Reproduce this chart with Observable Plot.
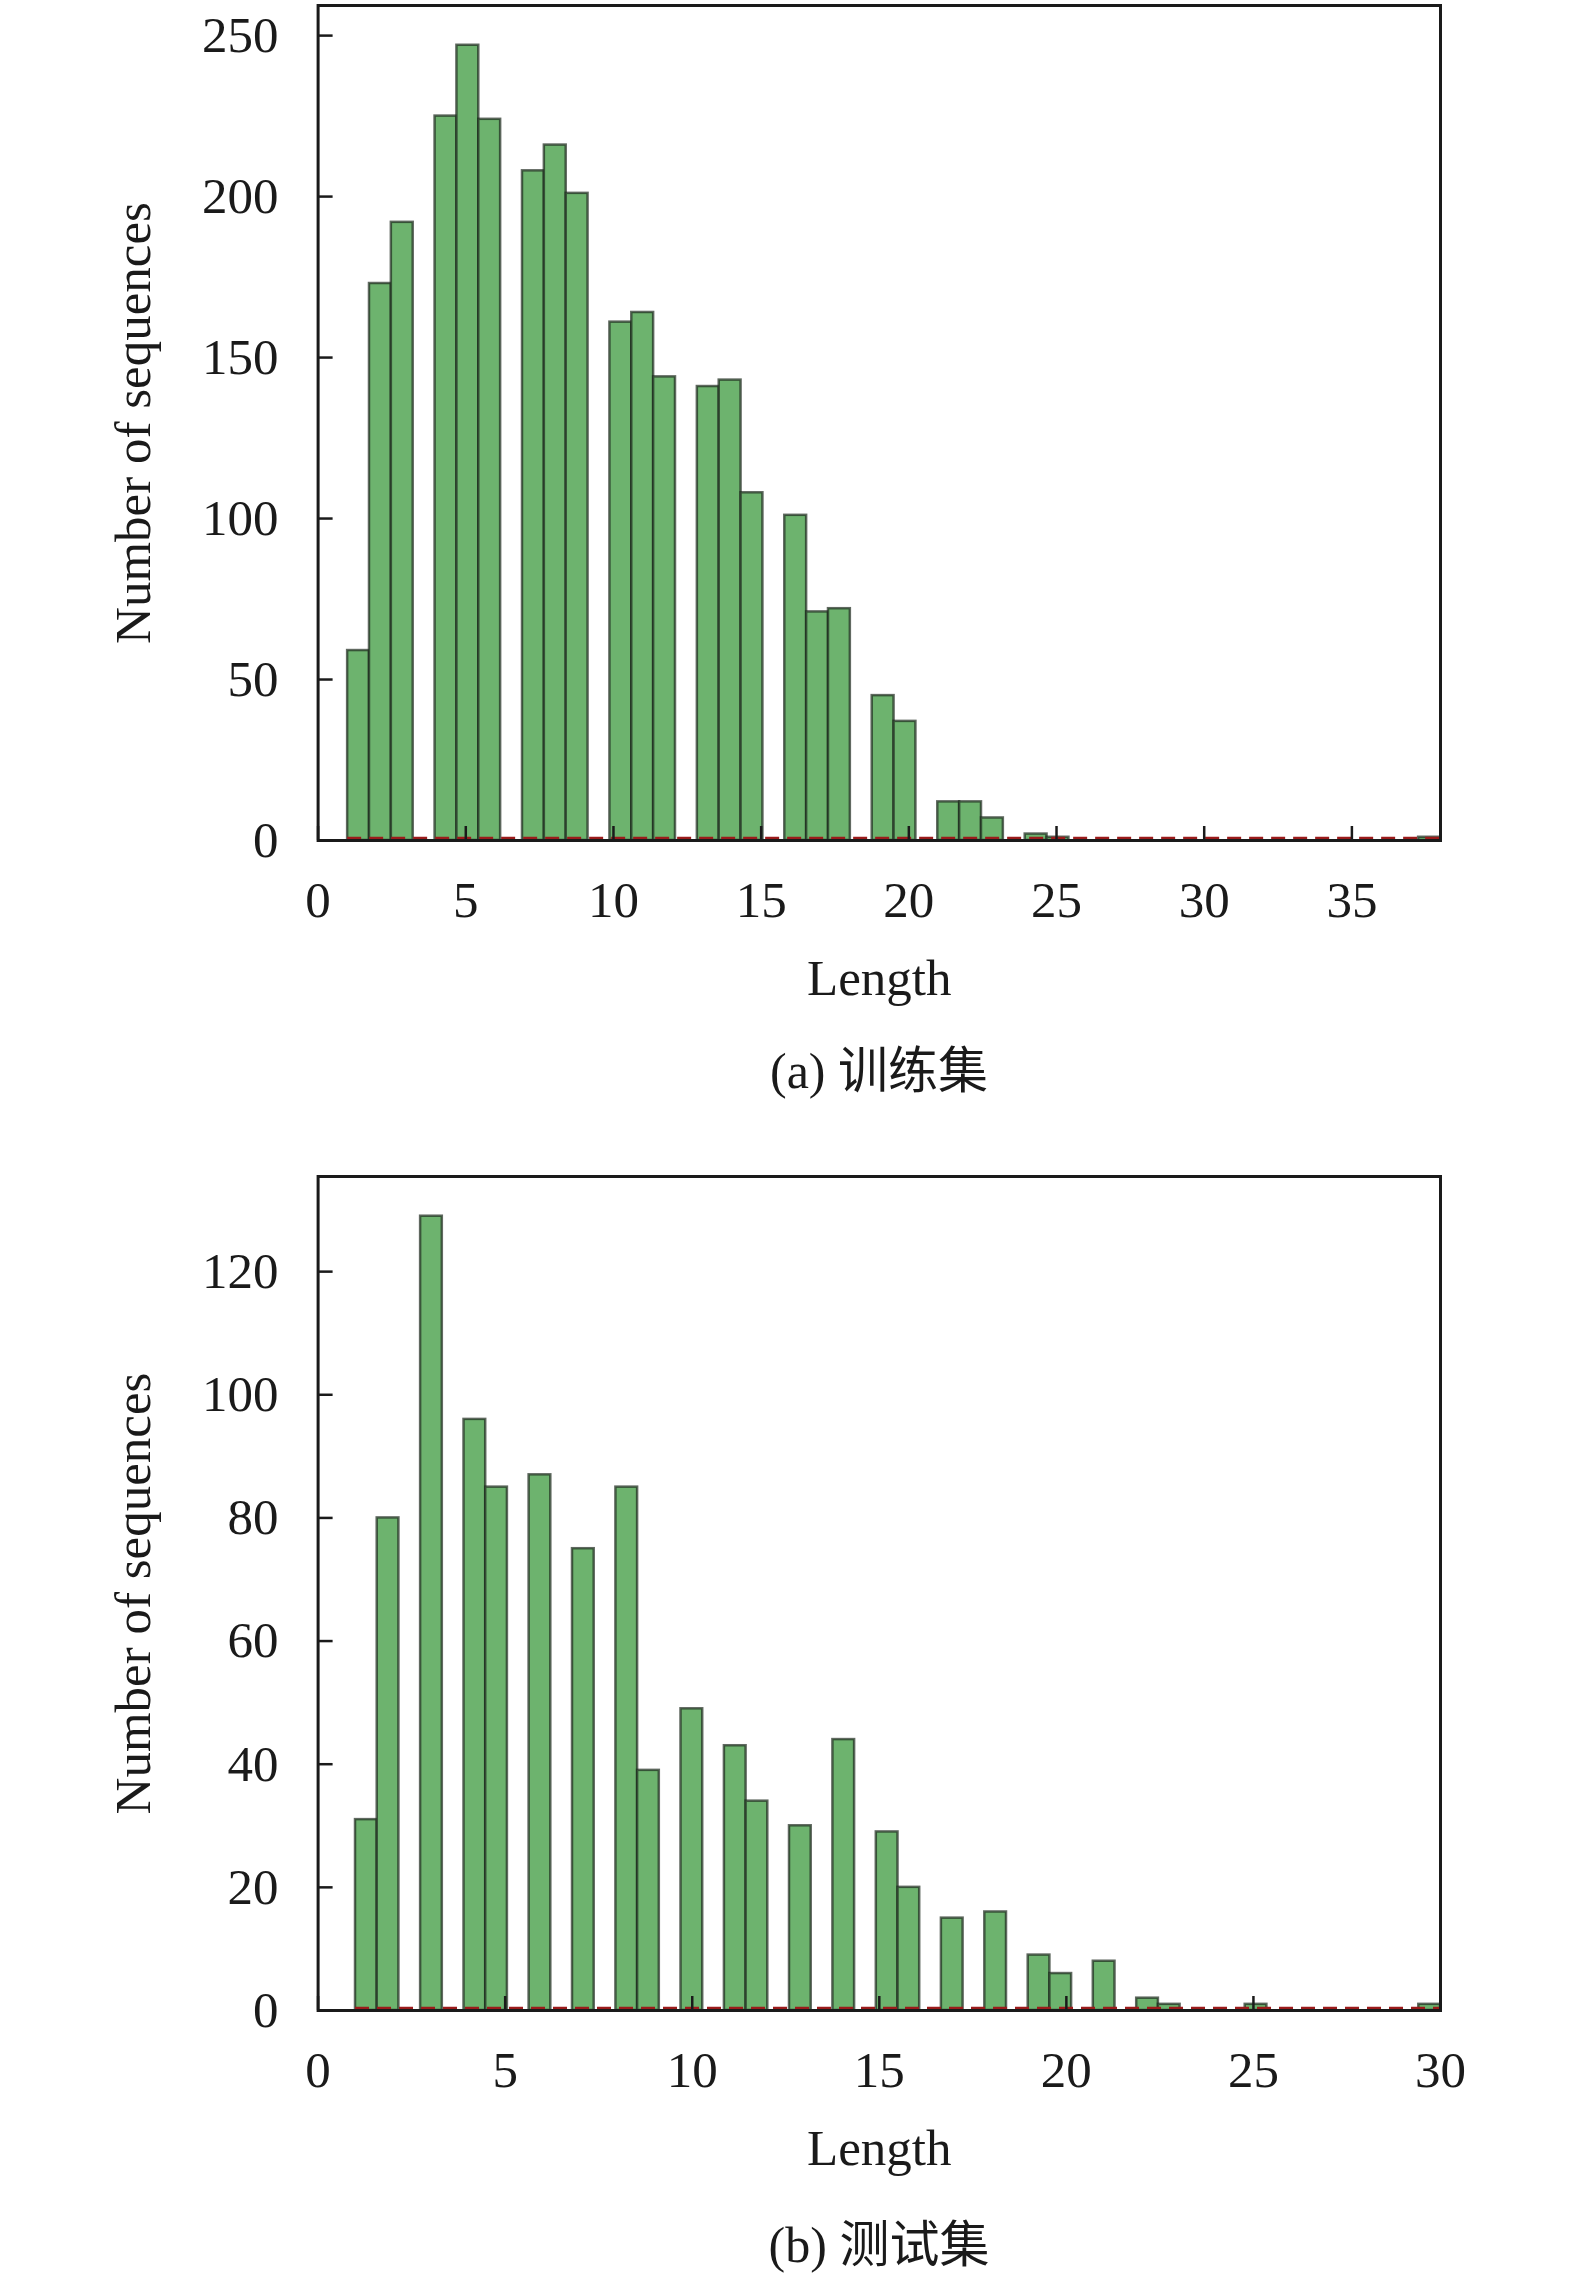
<!DOCTYPE html>
<html>
<head>
<meta charset="utf-8">
<script src="https://cdn.jsdelivr.net/npm/d3@7"></script>
<script src="https://cdn.jsdelivr.net/npm/@observablehq/plot@0.6"></script>
<style>
  html, body { margin: 0; padding: 0; background: #fff; }
  #wrap { position: relative; width: 1575px; height: 2280px; background: #fff; }
  .panel { position: absolute; left: 0; }
  .caption {
    position: absolute; left: 879px; transform: translateX(-50%);
    font-family: "Liberation Serif", "Noto Sans CJK SC", serif;
    font-size: 50px; line-height: 50px; height: 50px; white-space: nowrap; color: #1a1a1a;
  }
</style>
</head>
<body>
<div id="wrap">
  <div class="panel" id="pa" style="top:0px"></div>
  <div class="caption" style="top:1046px">(a) 训练集</div>
  <div class="panel" id="pb" style="top:1140px"></div>
  <div class="caption" style="top:2220px">(b) 测试集</div>
</div>
<script>
// ---- data: panel (a) 训练集 ----
const trainLengths = [1, 2, 3, 4, 5, 6, 7, 8, 9, 10, 11, 12, 13, 14, 15, 16, 17, 18, 19, 20, 21, 22, 23, 24, 25, 38];
const trainCounts  = [59, 173, 192, 225, 247, 224, 208, 216, 201, 161, 164, 144, 141, 143, 108, 101, 71, 72, 45, 37, 12, 12, 7, 2, 1, 1];
const trainRange   = [1, 38];
const trainXTicks  = [0, 5, 10, 15, 20, 25, 30, 35];
const trainYTicks  = [0, 50, 100, 150, 200, 250];

// ---- data: panel (b) 测试集 ----
const testLengths = [1, 2, 3, 4, 5, 6, 7, 8, 9, 10, 11, 12, 13, 14, 15, 16, 17, 18, 19, 20, 21, 22, 23, 25, 30];
const testCounts  = [31, 80, 129, 96, 85, 87, 75, 85, 39, 49, 43, 34, 30, 44, 29, 20, 15, 16, 9, 6, 8, 2, 1, 1, 1];
const testRange   = [1, 30];
const testXTicks  = [0, 5, 10, 15, 20, 25, 30];
const testYTicks  = [0, 20, 40, 60, 80, 100, 120];

const nBins = 50;
const xLabel = "Length";
const yLabel = "Number of sequences";

function binned(lengths, counts, [lo, hi]) {
  const w = (hi - lo) / nBins;
  return lengths.map((L, i) => {
    const b = Math.min(nBins - 1, Math.floor((L - lo) / w + 1e-9));
    return {x1: lo + b * w, x2: lo + (b + 1) * w, y: counts[i]};
  });
}

function panel(lengths, counts, range, xTicks, yTicks, marginTop, height) {
  const bars = binned(lengths, counts, range);
  const yMax = d3.max(counts) * 1.05;
  const ink = "#1a1a1a";
  return Plot.plot({
    width: 1575,
    height,
    marginLeft: 317.6,
    marginRight: 135,
    marginTop,
    marginBottom: 170,
    style: {
      fontFamily: '"Liberation Serif", "Times New Roman", serif',
      fontSize: "51px",
      color: ink,
      background: "white",
      overflow: "visible"
    },
    x: {domain: [0, range[1]]},
    y: {domain: [0, yMax]},
    marks: [
      Plot.rectY(bars, {
        x1: "x1", x2: "x2", y: "y",
        fill: "#6db36e",
        stroke: "#1e2a1e", strokeOpacity: 0.7, strokeWidth: 2.5
      }),
      Plot.ruleY([{y: 0, x1: range[0], x2: range[1]}], {
        y: "y", x1: "x1", x2: "x2",
        stroke: "#9b1b1b", strokeWidth: 2.5, strokeDasharray: "14,8", dy: -2.5
      }),
      Plot.frame({stroke: ink, strokeWidth: 3}),
      Plot.axisX(xTicks, {tickSize: -14, tickPadding: 54, strokeWidth: 2.5, stroke: ink, label: null}),
      Plot.axisY(yTicks, {tickSize: -15, tickPadding: 54.6, strokeWidth: 2.5, stroke: ink, label: null}),
      Plot.text([xLabel], {frameAnchor: "bottom", dy: 118, lineAnchor: "top", fill: ink}),
      Plot.text([yLabel], {frameAnchor: "left", rotate: -90, dx: -184, lineAnchor: "middle", textAnchor: "middle", fill: ink})
    ]
  });
}

document.getElementById("pa").append(panel(trainLengths, trainCounts, trainRange, trainXTicks, trainYTicks, 5, 1010));
document.getElementById("pb").append(panel(testLengths, testCounts, testRange, testXTicks, testYTicks, 36, 1040));
</script>
</body>
</html>
